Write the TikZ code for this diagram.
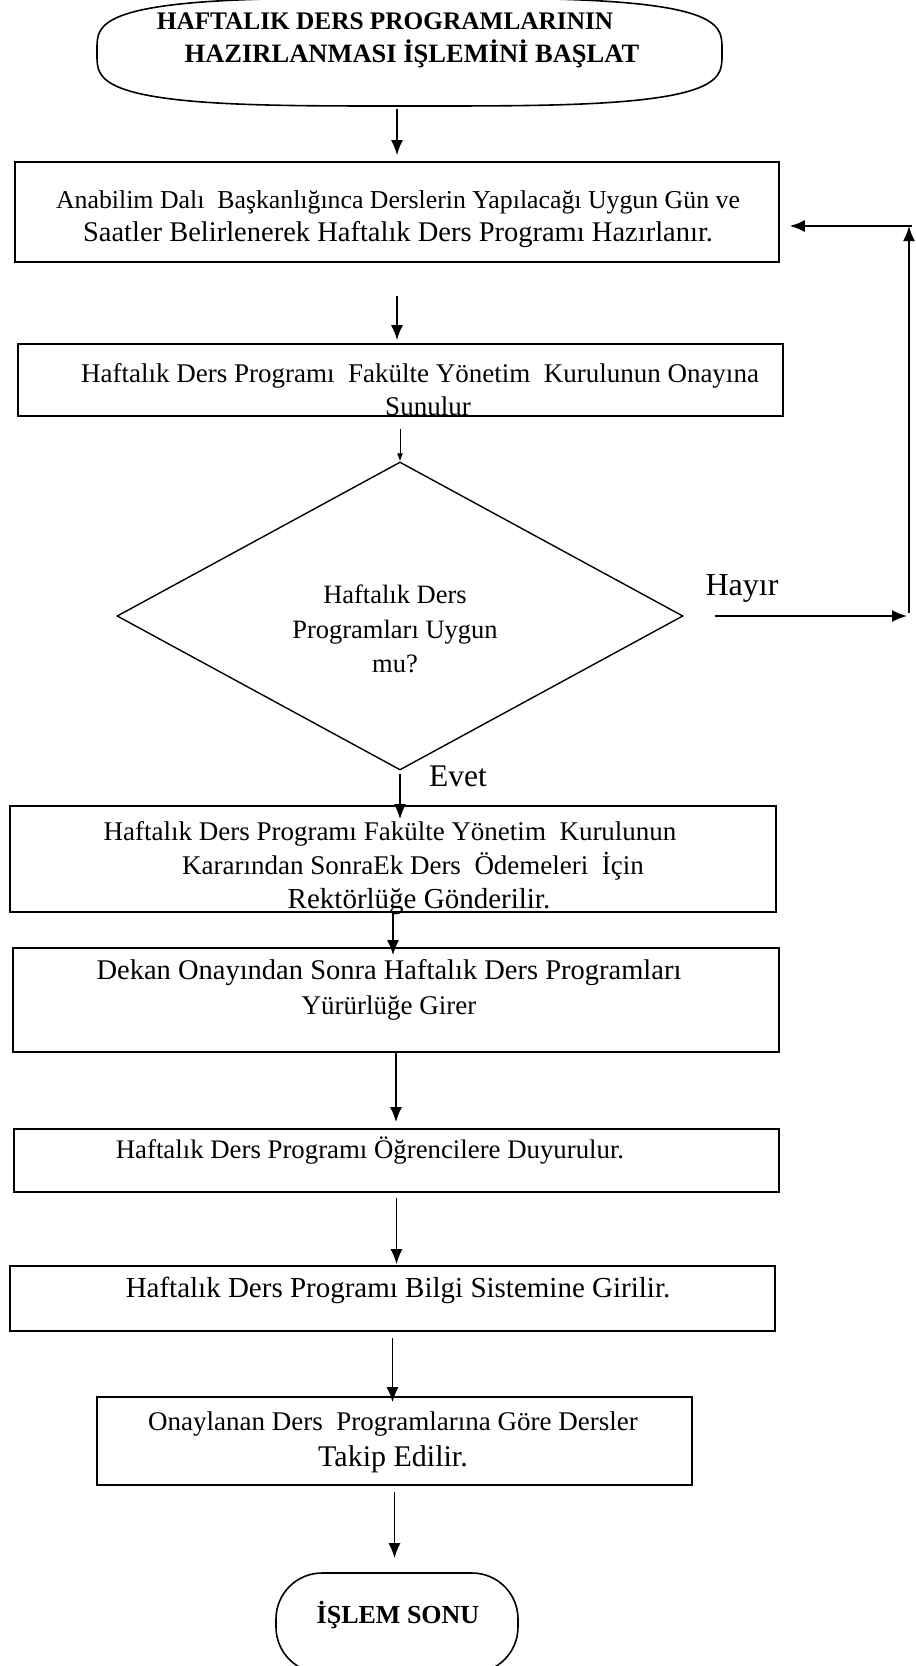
\documentclass[tikz,border=0pt]{standalone}
\usepackage{fontspec}
\setmainfont{Liberation Serif}
\usetikzlibrary{arrows.meta,shapes.geometric}

\newcommand{\fsz}[1]{\fontsize{#1bp}{33bp}\selectfont}

\begin{document}
\begin{tikzpicture}[x=1bp,y=-1bp,
  box/.style={draw, line width=1.6bp, rectangle, inner sep=0pt},
  lbl/.style={align=center, inner sep=0pt, font=\fontsize{27bp}{33bp}\selectfont},
  ttl/.style={align=center, inner sep=0pt, font=\fontsize{25.3bp}{33bp}\selectfont\bfseries},
  tag/.style={inner sep=0pt, font=\fontsize{32bp}{34bp}\selectfont},
  arr/.style={line width=1.8bp, -{Latex[length=15bp,width=12bp]}},
  thinarr/.style={line width=0.9bp, -{Latex[length=8bp,width=6bp]}},
]
\useasboundingbox (0,0) rectangle (915,1666);
\clip (0,0) rectangle (915,1666);

% start terminal: a full oval (superellipse outline, exponent 3.5)
\node[minimum width=625bp, minimum height=108bp, inner sep=0pt] (start) at (409.5,52) {};
\draw[line width=1.6bp] plot[domain=0.25:359.75, samples=720, variable=\t]
  ({409.5+312.5*sign(cos(\t))*pow(abs(cos(\t)),0.5714)}, {52+54*sign(sin(\t))*pow(abs(sin(\t)),0.5714)}) -- cycle;
\node[ttl] (starttext) at (398,40) {\hspace*{-26bp}HAFTALIK DERS PROGRAMLARININ\\\hspace*{28bp}{\fsz{26.5}HAZIRLANMASI İŞLEMİNİ BAŞLAT}};

% process steps
\node[box, minimum width=764bp, minimum height=100bp] (b1) at (397,212) {};
\node[lbl] (t1) at (398,219) {{\fsz{25.8}Anabilim Dalı\ \ Başkanlığınca Derslerin Yapılacağı Uygun Gün ve}\\{\fsz{28.5}Saatler Belirlenerek Haftalık Ders Programı Hazırlanır.}};

\node[box, minimum width=765bp, minimum height=72bp] (b2) at (400.5,380) {};
\node[lbl] (t2) at (420,390) {Haftalık Ders Programı\ \ Fakülte Yönetim\ \ Kurulunun Onayına\\\hspace*{16bp}Sunulur};

% decision
\node[diamond, draw, line width=1.4bp, minimum width=566bp, minimum height=308bp, inner sep=0pt] (dia) at (400,616) {};
\node[lbl, font=\fontsize{26.5bp}{34.5bp}\selectfont] (t3) at (395,629) {Haftalık Ders\\Programları Uygun\\mu?};

\node[box, minimum width=766bp, minimum height=106bp] (b3) at (393,859) {};
\node[lbl, font=\fontsize{27bp}{34bp}\selectfont] (t4) at (408,868) {\hspace*{-36bp}Haftalık Ders Programı Fakülte Yönetim\ \ Kurulunun\\\hspace*{10bp}Kararından SonraEk Ders\ \ Ödemeleri\ \ İçin\\\hspace*{22bp}{\fsz{29}Rektörlüğe Gönderilir.}};

\node[box, minimum width=766bp, minimum height=104bp] (b4) at (396,1000) {};
\node[lbl, font=\fontsize{27bp}{35bp}\selectfont] (t5) at (389,990) {{\fsz{28.5}Dekan Onayından Sonra Haftalık Ders Programları}\\Yürürlüğe Girer};

\node[box, minimum width=765bp, minimum height=63bp] (b5) at (396.5,1160.5) {};
\node[lbl, font=\fontsize{26.8bp}{33bp}\selectfont] (t6) at (370,1151) {Haftalık Ders Programı Öğrencilere Duyurulur.};

\node[box, minimum width=765bp, minimum height=65bp] (b6) at (392.5,1298.5) {};
\node[lbl, font=\fontsize{29bp}{33bp}\selectfont] (t7) at (398,1290) {Haftalık Ders Programı Bilgi Sistemine Girilir.};

\node[box, minimum width=595bp, minimum height=88bp] (b7) at (394.5,1441) {};
\node[lbl, font=\fontsize{27bp}{36bp}\selectfont] (t8) at (393,1442) {Onaylanan Ders\ \ Programlarına Göre Dersler\\{\fsz{30}Takip Edilir.}};

% end terminal
\node[draw, line width=1.6bp, rounded corners=46bp, minimum width=242bp, minimum height=100bp, inner sep=0pt] (end) at (397,1623) {};
\node[ttl, font=\fontsize{26bp}{33bp}\selectfont\bfseries] (endtext) at (398,1615) {İŞLEM SONU};

% branch labels
\node[tag] (hayir) at (742,588) {Hayır};
\node[tag, font=\fontsize{31.5bp}{34bp}\selectfont] (evet) at (458,776) {Evet};

% main flow
\draw[arr, shorten <=3bp, shorten >=6bp] (start.south -| b1.north) -- (b1.north);
\draw[arr, shorten <=33bp, shorten >=3bp] (b1.south) -- (b1.south |- b2.north);
\draw[thinarr, shorten <=12bp] (dia.north |- b2.south) -- (dia.north);
\draw[arr, shorten <=3bp, shorten >=-14bp] (dia.south) -- (dia.south |- b3.north);
\draw[arr, shorten >=-8bp] (b3.south) -- (b3.south |- b4.north);
\draw[arr, shorten >=6bp] (b4.south) -- (b4.south |- b5.north);
\draw[arr, shorten <=5bp, shorten >=1bp] (b5.south) -- (b5.south |- b6.north);
\draw[arr, shorten <=6bp, shorten >=-6bp] (b6.south) -- (b6.south |- b7.north);
\draw[arr, shorten <=6bp, shorten >=14bp] (b7.south) -- (b7.south |- end.north);

% return path for the "Hayır" branch
\coordinate (fbR) at (909,616);
\coordinate (fbT) at (909,226);
\coordinate (fbE) at (912,226);
\draw[arr, shorten <=31bp, shorten >=2bp] (dia.east) -- (fbR);
\draw[arr, shorten <=3bp] (fbR) -- (fbT);
\draw[arr, shorten >=10bp] (fbE) -- (b1.east |- fbE);
\end{tikzpicture}
\end{document}
